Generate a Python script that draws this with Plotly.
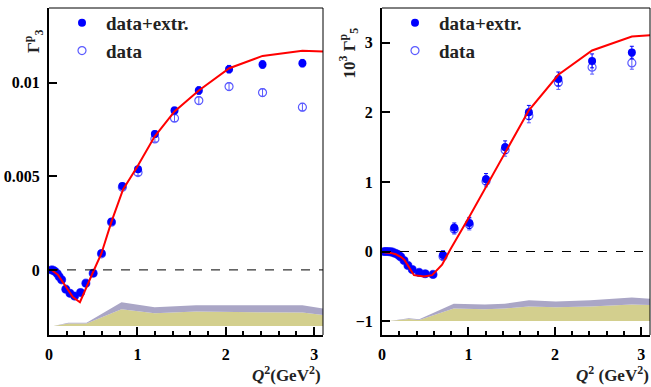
import plotly.graph_objects as go

# Gamma_3^p panel
g3_q2 = [0.03, 0.05, 0.068, 0.094, 0.116, 0.143, 0.19, 0.237, 0.29, 0.357, 0.417, 0.50,
         0.594, 0.707, 0.83, 1.007, 1.198, 1.42, 1.695, 2.037, 2.416, 2.867]
g3_extr = [0.0, -0.00003, -0.00009, -0.00021, -0.00036, -0.00053, -0.00103, -0.00125, -0.0014,
           -0.00121, -0.00071, -0.00018, 0.00089, 0.00258, 0.00449, 0.00538, 0.00726, 0.00852,
           0.00959, 0.01073, 0.01098, 0.01105]
g3_extr_err = [0.00003, 0.00003, 0.00003, 0.00004, 0.00004, 0.00005, 0.00005, 0.00006, 0.00006,
               0.00007, 0.00008, 0.00009, 0.0001, 0.0001, 0.00012, 0.00015, 0.00016, 0.00018,
               0.0002, 0.0002, 0.0002, 0.0002]
g3_data = [0.0, -0.00003, -0.00009, -0.00021, -0.00036, -0.00053, -0.00103, -0.00125, -0.0014,
           -0.00121, -0.00071, -0.00018, 0.00086, 0.00255, 0.00442, 0.0052, 0.007, 0.00811,
           0.00905, 0.0098, 0.00948, 0.0087]
g3_data_err = [0.00003, 0.00003, 0.00003, 0.00004, 0.00004, 0.00005, 0.00005, 0.00006, 0.00006,
               0.00007, 0.00008, 0.00009, 0.0001, 0.0001, 0.00012, 0.00015, 0.00016, 0.00018,
               0.0002, 0.0002, 0.0002, 0.0002]
g3_fit_q2 = [0.0, 0.03, 0.10, 0.16, 0.22, 0.27, 0.35, 0.50, 0.594, 0.707, 0.838, 1.0, 1.195,
             1.42, 1.695, 2.04, 2.416, 2.867, 3.1]
g3_fit = [0.0, 0.0, -0.00025, -0.00071, -0.0011, -0.00145, -0.00173, -0.0001, 0.00089, 0.00258,
          0.0043, 0.00553, 0.00713, 0.00847, 0.00959, 0.01078, 0.01144, 0.01172, 0.01167]
g3_band_q2 = [0.05, 0.218, 0.425, 0.82, 1.195, 1.665, 2.867, 3.1]
g3_band_base = [-0.003, -0.003, -0.003, -0.003, -0.003, -0.003, -0.003, -0.003]
g3_band_syst = [-0.003, -0.00287, -0.00287, -0.0021, -0.00232, -0.00223, -0.00228, -0.00241]
g3_band_total = [-0.003, -0.00282, -0.00282, -0.00173, -0.00199, -0.00189, -0.00189, -0.00207]

# 10^3 Gamma_5^p panel
g5_q2 = [0.027, 0.046, 0.065, 0.084, 0.103, 0.122, 0.141, 0.16, 0.18, 0.2, 0.218, 0.255, 0.30,
         0.35, 0.43, 0.50, 0.59, 0.706, 0.836, 1.01, 1.203, 1.424, 1.699, 2.04, 2.43, 2.89]
g5_extr = [0.0, 0.0, 0.0, -0.002, -0.005, -0.01, -0.02, -0.03, -0.04, -0.06, -0.08, -0.13, -0.2,
           -0.26, -0.3, -0.32, -0.33, -0.05, 0.34, 0.41, 1.04, 1.5, 2.0, 2.48, 2.74, 2.86]
g5_extr_err = [0.01, 0.01, 0.01, 0.01, 0.01, 0.01, 0.01, 0.01, 0.01, 0.01, 0.01, 0.02, 0.02,
               0.02, 0.02, 0.03, 0.03, 0.06, 0.07, 0.08, 0.08, 0.09, 0.1, 0.1, 0.1, 0.09]
g5_data = [0.0, 0.0, 0.0, -0.002, -0.005, -0.01, -0.02, -0.03, -0.04, -0.06, -0.08, -0.13, -0.2,
           -0.26, -0.3, -0.32, -0.33, -0.07, 0.32, 0.39, 1.01, 1.46, 1.95, 2.43, 2.65, 2.71]
g5_data_err = [0.01, 0.01, 0.01, 0.01, 0.01, 0.01, 0.01, 0.01, 0.01, 0.01, 0.01, 0.02, 0.02,
               0.02, 0.02, 0.03, 0.03, 0.06, 0.07, 0.08, 0.08, 0.09, 0.1, 0.1, 0.1, 0.09]
g5_fit_q2 = [0.02, 0.10, 0.16, 0.22, 0.26, 0.30, 0.33, 0.37, 0.485, 0.58, 0.695, 0.79, 1.01,
             1.203, 1.424, 1.699, 2.04, 2.43, 2.89, 3.1]
g5_fit = [-0.01, -0.02, -0.04, -0.08, -0.12, -0.2, -0.28, -0.34, -0.36, -0.34, -0.19, 0.03, 0.5,
          0.93, 1.42, 2.03, 2.54, 2.89, 3.09, 3.11]
g5_band_q2 = [0.084, 0.31, 0.43, 0.83, 1.19, 1.42, 1.70, 2.01, 2.41, 2.89, 3.1]
g5_band_base = [-1.0, -1.0, -1.0, -1.0, -1.0, -1.0, -1.0, -1.0, -1.0, -1.0, -1.0]
g5_band_syst = [-1.0, -0.97, -0.985, -0.82, -0.83, -0.82, -0.79, -0.8, -0.79, -0.76, -0.77]
g5_band_total = [-1.0, -0.96, -0.975, -0.75, -0.76, -0.75, -0.7, -0.72, -0.7, -0.66, -0.68]

X_TICKS = [0, 1, 2, 3]
G3_TICKS = [0, 0.005, 0.01]
G3_TICKTEXT = ["0", "0.005", "0.01"]
G5_TICKS = [-1, 0, 1, 2, 3]

SERIF = "Liberation Serif, Times New Roman, DejaVu Serif, serif"
BLUE = "#0000ff"
OPEN_BLUE = "#5a5aff"
YELLOW = "#d3cf8e"
PURPLE = "#aaa6c6"


def add_panel(fig, q2, extr, extr_err, data, data_err, fit_q2, fit, band_q2, base, syst, total,
              xa, ya, legend):
    fig.add_trace(go.Scatter(x=band_q2, y=base, mode="lines", line={"width": 0},
                             showlegend=False, hoverinfo="skip", xaxis=xa, yaxis=ya))
    fig.add_trace(go.Scatter(x=band_q2, y=syst, mode="lines", line={"width": 0},
                             fill="tonexty", fillcolor=YELLOW, showlegend=False,
                             hoverinfo="skip", xaxis=xa, yaxis=ya))
    fig.add_trace(go.Scatter(x=band_q2, y=total, mode="lines", line={"width": 0},
                             fill="tonexty", fillcolor=PURPLE, showlegend=False,
                             hoverinfo="skip", xaxis=xa, yaxis=ya))
    fig.add_trace(go.Scatter(
        x=q2, y=data, mode="markers", name="data", legend=legend,
        marker={"symbol": "circle-open", "size": 8, "color": OPEN_BLUE, "line": {"width": 1.2}},
        error_y={"type": "data", "array": data_err, "thickness": 1, "width": 2,
                 "color": OPEN_BLUE},
        xaxis=xa, yaxis=ya,
    ))
    fig.add_trace(go.Scatter(
        x=q2, y=extr, mode="markers", name="data+extr.", legend=legend,
        marker={"symbol": "circle", "size": 8, "color": BLUE},
        error_y={"type": "data", "array": extr_err, "thickness": 1, "width": 2, "color": BLUE},
        xaxis=xa, yaxis=ya,
    ))
    fig.add_trace(go.Scatter(x=fit_q2, y=fit, mode="lines", line={"color": "#ff0000", "width": 2},
                             showlegend=False, xaxis=xa, yaxis=ya))


fig = go.Figure()
add_panel(fig, g3_q2, g3_extr, g3_extr_err, g3_data, g3_data_err, g3_fit_q2, g3_fit,
          g3_band_q2, g3_band_base, g3_band_syst, g3_band_total, "x", "y", "legend")
add_panel(fig, g5_q2, g5_extr, g5_extr_err, g5_data, g5_data_err, g5_fit_q2, g5_fit,
          g5_band_q2, g5_band_base, g5_band_syst, g5_band_total, "x2", "y2", "legend2")

W, H = 651, 387
tick_font = {"family": SERIF, "size": 16, "color": "black", "weight": "bold"}
x_common = {
    "range": [0, 3.1], "tickvals": X_TICKS, "ticks": "inside", "ticklen": 8, "tickwidth": 1.5,
    "tickcolor": "black", "showline": True, "linewidth": 2, "linecolor": "black",
    "showgrid": False, "zeroline": False, "tickfont": tick_font, "ticklabelstandoff": 4,
    "automargin": False,
    "minor": {"dtick": 0.2, "ticks": "inside", "ticklen": 4, "tickwidth": 1.5,
              "tickcolor": "black"},
}
y_common = {
    "ticks": "inside", "ticklen": 8, "tickwidth": 1.5, "tickcolor": "black", "showline": True,
    "linewidth": 2, "linecolor": "black", "showgrid": False, "zeroline": False,
    "tickfont": tick_font, "ticklabelstandoff": 4, "automargin": False,
}
y_dom = [1 - 335 / H, 1 - 8 / H]
legend_style = {"xanchor": "left", "yanchor": "top", "bgcolor": "rgba(0,0,0,0)",
                "traceorder": "reversed", "itemwidth": 38,
                "font": {"family": SERIF, "size": 19, "color": "#222", "weight": "bold"}}

fig.update_layout(
    width=W, height=H, margin={"l": 0, "r": 0, "t": 0, "b": 0, "autoexpand": False},
    paper_bgcolor="white", plot_bgcolor="white",
    xaxis={**x_common, "domain": [49 / W, 323 / W], "anchor": "y"},
    yaxis={**y_common, "domain": y_dom, "anchor": "x", "range": [-0.00348, 0.0140],
           "tickvals": G3_TICKS, "ticktext": G3_TICKTEXT},
    xaxis2={**x_common, "domain": [382 / W, 650 / W], "anchor": "y2"},
    yaxis2={**y_common, "domain": y_dom, "anchor": "x2", "range": [-1.2, 3.5],
            "tickvals": G5_TICKS},
    legend={**legend_style, "x": 58 / W, "y": 1 - 4 / H},
    legend2={**legend_style, "x": 391 / W, "y": 1 - 4 / H},
    showlegend=True,
)

# frame top/right edges and the dashed zero lines
for xr, yr in (("x", "y"), ("x2", "y2")):
    fig.add_shape(type="line", xref=f"{xr} domain", yref=f"{yr} domain",
                  x0=0, x1=1, y0=1, y1=1, line={"color": "black", "width": 1})
    fig.add_shape(type="line", xref=f"{xr} domain", yref=f"{yr} domain",
                  x0=1, x1=1, y0=0, y1=1, line={"color": "black", "width": 1})
    fig.add_shape(type="line", xref=f"{xr} domain", yref=yr, x0=0, x1=1, y0=0, y1=0,
                  line={"color": "black", "width": 1, "dash": "dash"})

label_font = {"family": SERIF, "size": 17, "color": "#222", "weight": "bold"}
fig.add_annotation(text="Γ<sup>p</sup><sub>3</sub>", textangle=-90, xref="paper", yref="paper",
                   x=19 / W, y=1 - 28 / H, showarrow=False, font=label_font)
fig.add_annotation(text="10<sup>3</sup> Γ<sup>p</sup><sub>5</sub>", textangle=-90, xref="paper",
                   yref="paper", x=349 / W, y=1 - 26 / H, showarrow=False, font=label_font)
fig.add_annotation(text="<i>Q</i><sup>2</sup>(GeV<sup>2</sup>)", xref="paper", yref="paper",
                   x=323 / W, y=0, xanchor="right", yanchor="bottom", showarrow=False,
                   font=label_font)
fig.add_annotation(text="<i>Q</i><sup>2</sup> (GeV<sup>2</sup>)", xref="paper", yref="paper",
                   x=651 / W, y=0, xanchor="right", yanchor="bottom", showarrow=False,
                   font=label_font)

# the page's default body margin would shift the whole figure by 8 px
fig.write_html("out.html", config={"displayModeBar": False},
               post_script="document.body.style.margin = '0px';")
